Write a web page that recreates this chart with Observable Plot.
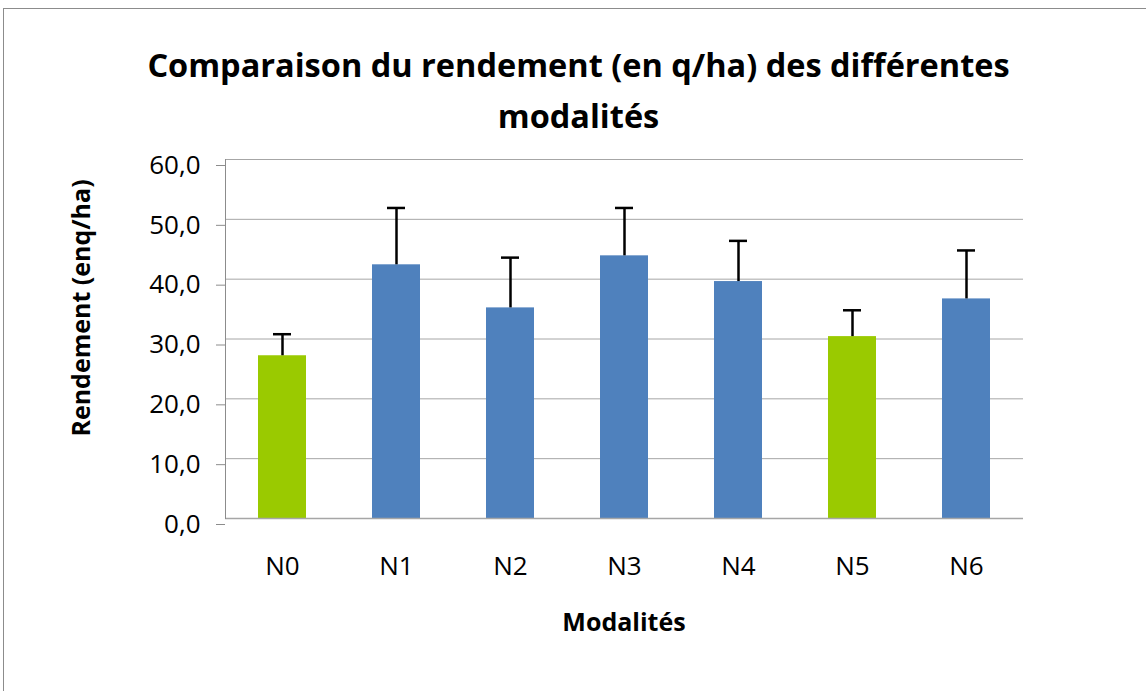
<!DOCTYPE html>
<html>
<head>
<meta charset="utf-8">
<script src="https://cdn.jsdelivr.net/npm/d3@7"></script>
<script src="https://cdn.jsdelivr.net/npm/@observablehq/plot@0.6"></script>
<style>
  html, body { margin: 0; padding: 0; background: #fff; }
  #wrap { position: relative; width: 1146px; height: 691px; overflow: hidden; font-family: "Open Sans", sans-serif; }
  #frame { position: absolute; left: 3px; top: 8px; width: 1160px; height: 700px; border: 1px solid #8c8c8c; box-sizing: border-box; }
  .t { position: absolute; color: #000; white-space: nowrap; }
  #title { left: 0; width: 1157px; text-align: center; top: 39px; font-weight: 700; font-size: 32.5px; line-height: 51px; }
  #xlabel { left: 225px; width: 798px; text-align: center; top: 603px; font-weight: 700; font-size: 25px; line-height: 36px; }
  #ylabel { left: 80px; top: 308px; font-weight: 700; font-size: 25px; line-height: 36px; transform: translate(-50%, -50%) rotate(-90deg); }
  #chart { position: absolute; left: 0; top: 0; }
  #chart svg text { font-size: 26px; font-family: "Open Sans", sans-serif; fill: #000; }
</style>
</head>
<body>
<div id="wrap">
  <div id="frame"></div>
  <div id="chart"></div>
  <div class="t" id="title">Comparaison du rendement (en q/ha) des différentes<br>modalités</div>
  <div class="t" id="xlabel">Modalités</div>
  <div class="t" id="ylabel">Rendement (enq/ha)</div>
</div>
<script>
const categories = ["N0", "N1", "N2", "N3", "N4", "N5", "N6"];
const values = [27.2, 42.4, 35.2, 43.9, 39.6, 30.4, 36.7];
const errors = [3.6, 9.5, 8.4, 8.0, 6.8, 4.4, 8.1];
const groups = ["témoin", "traité", "traité", "traité", "traité", "témoin", "traité"];
const yTicks = [0, 10, 20, 30, 40, 50, 60];

const data = categories.map((c, i) => ({cat: c, v: values[i], e: errors[i], g: groups[i]}));
const fmt = d => d.toFixed(1).replace(".", ",");

const plot = Plot.plot({
  width: 1146,
  height: 691,
  marginLeft: 225,
  marginRight: 123,
  marginTop: 159,
  marginBottom: 173,
  style: {fontFamily: "Open Sans, sans-serif", fontSize: "26px", color: "#000", background: "transparent"},
  x: {domain: categories, paddingInner: 0.58, paddingOuter: 0.29, label: null},
  y: {domain: [0, 60], ticks: yTicks, label: null},
  color: {domain: ["témoin", "traité"], range: ["#9ACA00", "#4F81BD"]},
  marks: [
    Plot.gridY(yTicks, {stroke: "#a6a6a6", strokeOpacity: 1, strokeWidth: 1}),
    Plot.barY(data, {x: "cat", y: "v", fill: "g"}),
    Plot.ruleX(data, {x: "cat", y1: "v", y2: d => d.v + d.e, stroke: "#000", strokeWidth: 2.5}),
    Plot.tickY(data, {x: "cat", y: d => d.v + d.e, stroke: "#000", strokeWidth: 2.5, insetLeft: 15, insetRight: 15}),
    Plot.ruleY([0], {stroke: "#a6a6a6", strokeWidth: 1.5}),
    Plot.axisY(yTicks, {tickFormat: fmt, tickSize: 9, tickPadding: 16, stroke: "#8c8c8c", dy: 6}),
    Plot.axisX(categories, {tickSize: 0, tickPadding: 38}),
    Plot.frame({anchor: "left", stroke: "#8c8c8c"})
  ]
});
document.getElementById("chart").appendChild(plot);
</script>
</body>
</html>
